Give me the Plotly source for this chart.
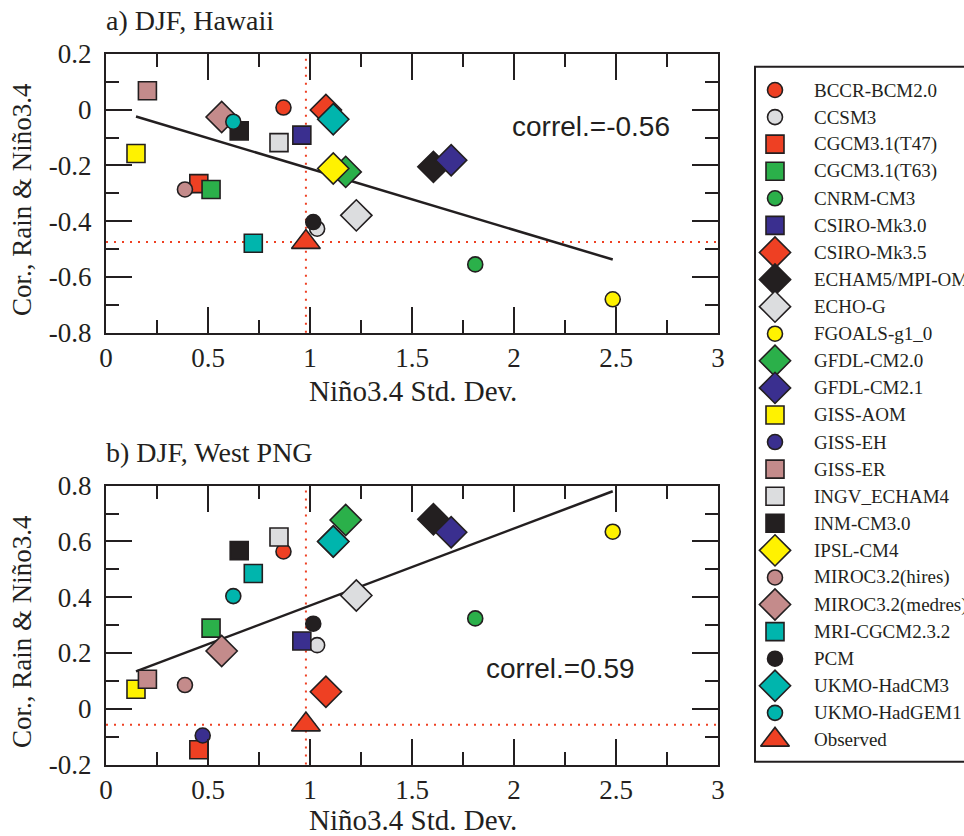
import numpy as np
import plotly.graph_objects as go

# ---- data -----------------------------------------------------------------
models = ["BCCR-BCM2.0", "CCSM3", "CGCM3.1(T47)", "CGCM3.1(T63)", "CNRM-CM3",
          "CSIRO-Mk3.0", "CSIRO-Mk3.5", "ECHAM5/MPI-OM", "ECHO-G", "FGOALS-g1_0",
          "GFDL-CM2.0", "GFDL-CM2.1", "GISS-AOM", "GISS-EH", "GISS-ER",
          "INGV_ECHAM4", "INM-CM3.0", "IPSL-CM4", "MIROC3.2(hires)",
          "MIROC3.2(medres)", "MRI-CGCM2.3.2", "PCM", "UKMO-HadCM3", "UKMO-HadGEM1"]

# DJF Nino3.4 standard deviation of each model
nino34_sd = [0.87, 1.035, 0.455, 0.515, 1.81, 0.96, 1.078, 1.605, 1.227, 2.484,
             1.175, 1.692, 0.147, 0.474, 0.203, 0.848, 0.653, 1.114, 0.387,
             0.567, 0.722, 1.016, 1.114, 0.624]

# correlation of DJF rainfall with Nino3.4
cor_hawaii = [0.008, -0.427, -0.265, -0.286, -0.555, -0.091, -0.001, -0.205, -0.379,
              -0.680, -0.223, -0.181, -0.157, 0.24, 0.068, -0.118, -0.076, -0.211,
              -0.286, -0.026, -0.479, -0.403, -0.034, -0.043]
cor_png = [0.564, 0.228, -0.147, 0.289, 0.324, 0.243, 0.061, 0.680, 0.406, 0.635,
           0.677, 0.633, 0.070, -0.096, 0.106, 0.616, 0.567, 0.600, 0.085, 0.207,
           0.485, 0.305, 0.600, 0.404]

obs_sd = 0.98
obs_hawaii = -0.475
obs_png = -0.057

correl_hawaii = "correl.=-0.56"
correl_png = "correl.=0.59"

x_ticks = [0, 0.5, 1, 1.5, 2, 2.5, 3]
x_ticklabels = ["0", "0.5", "1", "1.5", "2", "2.5", "3"]
x_minor = [0.25, 0.75, 1.25, 1.75, 2.25, 2.75]
y_ticks_a = [-0.8, -0.6, -0.4, -0.2, 0, 0.2]
y_ticklabels_a = ["-0.8", "-0.6", "-0.4", "-0.2", "0", "0.2"]
y_minor_a = [-0.7, -0.5, -0.3, -0.1, 0.1]
y_ticks_b = [-0.2, 0, 0.2, 0.4, 0.6, 0.8]
y_ticklabels_b = ["-0.2", "0", "0.2", "0.4", "0.6", "0.8"]
y_minor_b = [-0.1, 0.1, 0.3, 0.5, 0.7]

# ---- styles ---------------------------------------------------------------
RED, LGRAY, GREEN, NAVY = "#ee4023", "#dcdddf", "#2bb04a", "#3a2f8f"
BLACK, YELLOW, ROSY, CYAN = "#231f20", "#fff200", "#c48b8b", "#00b5ad"
INK = "#231f20"
SERIF = "Liberation Serif, Times New Roman, serif"
SANS = "Liberation Sans, Arial, sans-serif"

symbols = ["circle", "circle", "square", "square", "circle", "square", "diamond",
           "diamond", "diamond", "circle", "diamond", "diamond", "square", "circle",
           "square", "square", "square", "diamond", "circle", "diamond", "square",
           "circle", "diamond", "circle"]
colors = [RED, LGRAY, RED, GREEN, GREEN, NAVY, RED, BLACK, LGRAY, YELLOW, GREEN,
          NAVY, YELLOW, NAVY, ROSY, LGRAY, BLACK, YELLOW, ROSY, ROSY, CYAN, BLACK,
          CYAN, CYAN]
SIZE = {"circle": 15, "square": 18, "diamond": 24, "triangle-up": 25}

W, H = 964, 836
X_DOM = [106 / W, 718 / W]
Y_DOM_A = [1 - 332.7 / H, 1 - 54 / H]
Y_DOM_B = [1 - 764.5 / H, 1 - 485.7 / H]

fig = go.Figure()


def add_panel(ycor, yobs, xref, yref):
    # least-squares line of model correlations against Nino3.4 std. dev.
    xs = np.array(nino34_sd)
    ys = np.array(ycor)
    slope, icpt = np.polyfit(xs, ys, 1)
    xl = np.array([xs.min(), xs.max()])
    fig.add_trace(go.Scatter(x=xl, y=slope * xl + icpt, mode="lines",
                             line=dict(color=INK, width=2.5),
                             xaxis=xref, yaxis=yref, hoverinfo="skip"))
    for name, xv, yv, sym, col in zip(models, nino34_sd, ycor, symbols, colors):
        fig.add_trace(go.Scatter(
            x=[xv], y=[yv], mode="markers", name=name,
            marker=dict(symbol=sym, size=SIZE[sym], color=col, opacity=1,
                        line=dict(color=INK, width=1.6)),
            xaxis=xref, yaxis=yref))
    fig.add_trace(go.Scatter(
        x=[obs_sd], y=[yobs], mode="markers", name="Observed",
        marker=dict(symbol="triangle-up", size=SIZE["triangle-up"], color=RED,
                    opacity=1, line=dict(color=INK, width=1.6)),
        xaxis=xref, yaxis=yref))
    # dotted guides through the observed point
    fig.add_shape(type="line", xref=xref, yref=yref + " domain", x0=obs_sd, x1=obs_sd,
                  y0=0, y1=1, line=dict(color=RED, width=2, dash="2px,6px"),
                  layer="below")
    fig.add_shape(type="line", xref=xref + " domain", yref=yref, x0=0, x1=1,
                  y0=yobs, y1=yobs, line=dict(color=RED, width=2, dash="2px,6px"),
                  layer="below")


add_panel(cor_hawaii, obs_hawaii, "x", "y")
add_panel(cor_png, obs_png, "x2", "y2")

# ---- legend drawn on its own overlay axes ---------------------------------
legend_names = models + ["Observed"]
legend_symbols = symbols + ["triangle-up"]
legend_colors = colors + [RED]
leg_rows = list(range(len(legend_names)))
ROW0, ROWSTEP = 90, 27.08
LEG_MARK_X, LEG_TEXT_X = 775, 812

fig.add_trace(go.Scatter(
    x=[LEG_MARK_X] * len(leg_rows), y=leg_rows, mode="markers",
    marker=dict(symbol=legend_symbols, size=[SIZE[s] for s in legend_symbols],
                color=legend_colors, opacity=1, line=dict(color=INK, width=1.6)),
    xaxis="x3", yaxis="y3", cliponaxis=False, hoverinfo="skip"))
for r, name in zip(leg_rows, legend_names):
    fig.add_annotation(x=LEG_TEXT_X, y=r, xref="x3", yref="y3", text=name,
                       showarrow=False, xanchor="left", yanchor="middle",
                       font=dict(family=SERIF, size=19, color=INK))
fig.add_shape(type="rect", xref="paper", yref="paper", x0=755 / W, x1=1.2,
              y0=1 - 761.7 / H, y1=1 - 66.7 / H, line=dict(color=INK, width=2))


def axis(domain, rng, tv, tt, mv, **kw):
    d = dict(domain=domain, range=rng, tickmode="array", tickvals=tv, ticktext=tt,
             showline=True, linecolor=INK, linewidth=2, mirror="ticks",
             ticks="inside", ticklen=26, tickwidth=2, tickcolor=INK,
             showgrid=False, zeroline=False, automargin=False,
             tickfont=dict(family=SERIF, size=27, color=INK),
             minor=dict(tickmode="array", tickvals=mv, ticks="inside", ticklen=13,
                        tickwidth=2, tickcolor=INK, showgrid=False))
    d.update(kw)
    return d


fig.update_layout(
    width=W, height=H, margin=dict(l=0, r=0, t=0, b=0, autoexpand=False),
    paper_bgcolor="white", plot_bgcolor="rgba(0,0,0,0)", showlegend=False,
    xaxis=axis(X_DOM, [0, 3], x_ticks, x_ticklabels, x_minor, anchor="y",
               ticklabelstandoff=0),
    yaxis=axis(Y_DOM_A, [-0.8, 0.2], y_ticks_a, y_ticklabels_a, y_minor_a,
               anchor="x", ticklabelstandoff=7),
    xaxis2=axis(X_DOM, [0, 3], x_ticks, x_ticklabels, x_minor, anchor="y2",
                ticklabelstandoff=0),
    yaxis2=axis(Y_DOM_B, [-0.2, 0.8], y_ticks_b, y_ticklabels_b, y_minor_b,
                anchor="x2", ticklabelstandoff=7),
    xaxis3=dict(domain=[0, 1], range=[0, W], visible=False, anchor="y3",
                automargin=False),
    yaxis3=dict(domain=[0, 1], range=[(H - ROW0) / ROWSTEP, -ROW0 / ROWSTEP],
                visible=False, anchor="x3", automargin=False),
)


# ---- titles and text ------------------------------------------------------
def text(x, y, s, size=26, family=SERIF, angle=0, xanchor="center"):
    fig.add_annotation(x=x / W, y=1 - y / H, xref="paper", yref="paper", text=s,
                       showarrow=False, textangle=angle, xanchor=xanchor,
                       yanchor="middle", font=dict(family=family, size=size, color=INK))


text(104, 20, "a) DJF, Hawaii", size=28, xanchor="left")
text(104, 452, "b) DJF, West PNG", size=28, xanchor="left")
text(413, 391, "Niño3.4 Std. Dev.", size=29)
text(413, 820, "Niño3.4 Std. Dev.", size=29)
text(22, 200, "Cor., Rain &amp; Niño3.4", size=27, angle=-90)
text(22, 632, "Cor., Rain &amp; Niño3.4", size=27, angle=-90)
text(591, 126, correl_hawaii, size=28, family=SANS)
text(560, 668, correl_png, size=28, family=SANS)

fig.write_html("out.html")
